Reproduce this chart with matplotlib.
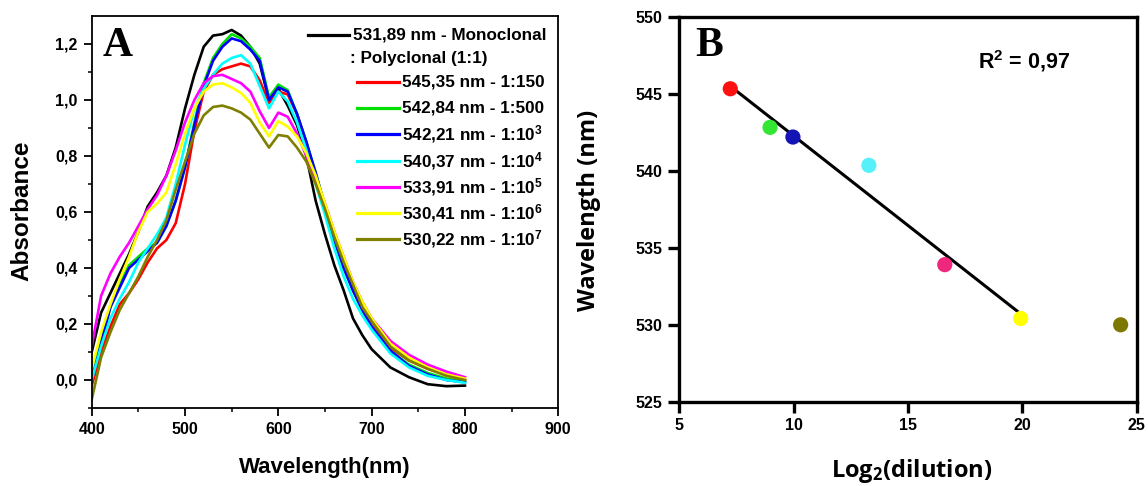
import numpy as np
import matplotlib
matplotlib.use("Agg")
import matplotlib.pyplot as plt

plt.rcParams['mathtext.default'] = 'regular'

# ---- panel A: absorbance spectra ----
wl = [400, 410, 420, 430, 440, 450, 460, 470, 480, 490, 500, 510, 520, 530, 540, 550,
      560, 570, 580, 590, 600, 610, 620, 630, 640, 650, 660, 670, 680, 690, 700,
      720, 740, 760, 780, 800]

abs_mono = [0.10, 0.24, 0.31, 0.38, 0.45, 0.53, 0.62, 0.67, 0.73, 0.83, 0.97, 1.09, 1.19, 1.23, 1.235, 1.25,
            1.23, 1.19, 1.13, 1.00, 1.04, 0.98, 0.91, 0.80, 0.64, 0.52, 0.41, 0.32, 0.22, 0.16, 0.11,
            0.045, 0.01, -0.015, -0.022, -0.02]
abs_150 = [-0.02, 0.10, 0.19, 0.27, 0.31, 0.36, 0.42, 0.47, 0.50, 0.56, 0.70, 0.89, 1.03, 1.09, 1.11, 1.12,
           1.13, 1.12, 1.07, 0.99, 1.03, 1.02, 0.95, 0.85, 0.73, 0.62, 0.50, 0.41, 0.32, 0.25, 0.195,
           0.115, 0.07, 0.04, 0.02, 0.0]
abs_500 = [0.02, 0.15, 0.26, 0.34, 0.41, 0.44, 0.47, 0.49, 0.55, 0.64, 0.76, 0.92, 1.06, 1.15, 1.20, 1.235,
           1.22, 1.19, 1.15, 1.01, 1.055, 1.035, 0.95, 0.85, 0.74, 0.62, 0.50, 0.40, 0.32, 0.25, 0.19,
           0.105, 0.055, 0.025, 0.005, -0.005]
abs_1e3 = [0.0, 0.13, 0.26, 0.33, 0.40, 0.43, 0.46, 0.49, 0.55, 0.64, 0.76, 0.91, 1.05, 1.14, 1.19, 1.22,
           1.21, 1.18, 1.14, 1.00, 1.045, 1.03, 0.95, 0.85, 0.74, 0.62, 0.50, 0.40, 0.32, 0.25, 0.19,
           0.105, 0.05, 0.02, 0.0, -0.008]
abs_1e4 = [0.0, 0.12, 0.22, 0.29, 0.35, 0.42, 0.47, 0.52, 0.58, 0.70, 0.84, 0.97, 1.04, 1.09, 1.13, 1.15,
           1.16, 1.13, 1.05, 0.97, 1.03, 0.995, 0.92, 0.82, 0.70, 0.59, 0.47, 0.37, 0.29, 0.23, 0.18,
           0.095, 0.045, 0.015, 0.0, -0.01]
abs_1e5 = [0.12, 0.30, 0.38, 0.44, 0.49, 0.55, 0.61, 0.66, 0.73, 0.82, 0.92, 1.00, 1.06, 1.085, 1.09, 1.075,
           1.06, 1.03, 0.96, 0.90, 0.955, 0.94, 0.88, 0.80, 0.72, 0.63, 0.53, 0.44, 0.35, 0.28, 0.22,
           0.14, 0.09, 0.055, 0.03, 0.01]
abs_1e6 = [0.04, 0.17, 0.27, 0.36, 0.44, 0.53, 0.60, 0.63, 0.67, 0.77, 0.88, 0.97, 1.03, 1.055, 1.06, 1.045,
           1.025, 0.99, 0.92, 0.87, 0.925, 0.905, 0.87, 0.81, 0.73, 0.63, 0.53, 0.44, 0.35, 0.28, 0.22,
           0.13, 0.08, 0.045, 0.02, 0.005]
abs_1e7 = [-0.07, 0.08, 0.17, 0.25, 0.31, 0.37, 0.44, 0.50, 0.57, 0.68, 0.78, 0.88, 0.945, 0.975, 0.98, 0.97,
           0.955, 0.93, 0.88, 0.83, 0.875, 0.87, 0.83, 0.78, 0.70, 0.61, 0.51, 0.42, 0.34, 0.26, 0.21,
           0.12, 0.07, 0.04, 0.015, 0.0]

spectra = [abs_mono, abs_150, abs_500, abs_1e3, abs_1e4, abs_1e5, abs_1e6, abs_1e7]
spec_colors = ['black', '#ff0000', '#00e000', '#0000ff', '#00ffff', '#ff00ff', '#ffff00', '#808000']
spec_labels = ['531,89 nm - Monoclonal', '545,35 nm - 1:150', '542,84 nm - 1:500',
               '542,21 nm - 1:10$^3$', '540,37 nm - 1:10$^4$', '533,91 nm - 1:10$^5$',
               '530,41 nm - 1:10$^6$', '530,22 nm - 1:10$^7$']

# ---- panel B: peak wavelength vs log2(dilution) ----
log2_dil = [7.23, 8.97, 9.97, 13.29, 16.61, 19.93, 24.3]
peak_wl = [545.35, 542.84, 542.21, 540.37, 533.91, 530.41, 530.0]
pt_colors = ['#ff1010', '#33e633', '#1414b4', '#55f0fa', '#f0287d', '#ffff00', '#7d7800']

fig = plt.figure(figsize=(11.48, 4.86), dpi=100)

# ---------------- A ----------------
axA = fig.add_axes([0.0799, 0.1605, 0.4064, 0.8066])
for y, c in zip(spectra, spec_colors):
    axA.plot(wl, y, color=c, lw=1.9)
axA.set_xlim(400, 900)
axA.set_ylim(-0.1, 1.3)
axA.set_xticks([400, 500, 600, 700, 800, 900])
axA.set_xticks([450, 550, 650, 750, 850], minor=True)
axA.set_yticks([0.0, 0.2, 0.4, 0.6, 0.8, 1.0, 1.2])
axA.set_yticks([-0.1, 0.1, 0.3, 0.5, 0.7, 0.9, 1.1], minor=True)
axA.set_yticklabels(['0,0', '0,2', '0,4', '0,6', '0,8', '1,0', '1,2'])
for s in axA.spines.values():
    s.set_linewidth(1.3)
axA.tick_params(which='major', direction='out', length=6, width=1.3, pad=4,
                labelsize=11.5)
axA.tick_params(which='minor', direction='out', length=3, width=1.1)
for lab in axA.get_xticklabels() + axA.get_yticklabels():
    lab.set_fontfamily('Liberation Sans')
    lab.set_fontweight('bold')

axA.text(0.056, 0.923, 'A', transform=axA.transAxes, ha='center', va='center',
         fontsize=30, fontweight='bold', family='Liberation Serif')

# hand-made legend in Origin style
lg_font = dict(fontsize=12.3, fontweight='bold', family='Liberation Sans', va='center')
axA.plot([0.464, 0.552], [0.9515, 0.9515], color='black', lw=2.3, transform=axA.transAxes)
axA.text(0.561, 0.9515, spec_labels[0], transform=axA.transAxes, **lg_font)
axA.text(0.554, 0.8916, ': Polyclonal (1:1)', transform=axA.transAxes, **lg_font)
rows = [0.8316, 0.7653, 0.699, 0.630, 0.5638, 0.4974, 0.4311]
for yy, c, lab in zip(rows, spec_colors[1:], spec_labels[1:]):
    axA.plot([0.569, 0.659], [yy, yy], color=c, lw=2.3, transform=axA.transAxes)
    axA.text(0.665, yy, lab, transform=axA.transAxes, **lg_font)

fig.text(325 / 1148, 1 - 467 / 486, 'Wavelength(nm)', ha='center', va='center',
         fontsize=16, fontweight='bold', family='Liberation Sans')
fig.text(22 / 1148, 1 - 211 / 486, 'Absorbance', ha='center', va='center', rotation=90,
         fontsize=17.5, fontweight='bold', family='Liberation Sans')

# ---------------- B ----------------
axB = fig.add_axes([0.5917, 0.1735, 0.3984, 0.791])
coef = np.polyfit(log2_dil[:6], peak_wl[:6], 1)
xfit = np.array([log2_dil[0], log2_dil[5]])
axB.plot(xfit, np.polyval(coef, xfit), color='black', lw=2.2, zorder=2)
axB.scatter(log2_dil, peak_wl, s=120, c=pt_colors, edgecolors='none', zorder=3)
axB.set_xlim(5, 25)
axB.set_ylim(525, 550)
axB.set_xticks([5, 10, 15, 20, 25])
axB.set_yticks([525, 530, 535, 540, 545, 550])
for s in axB.spines.values():
    s.set_linewidth(2.4)
axB.tick_params(direction='out', length=8, width=2.4, pad=4, labelsize=11.5)
for lab in axB.get_xticklabels() + axB.get_yticklabels():
    lab.set_fontfamily('Liberation Sans')
    lab.set_fontweight('bold')

axB.text(0.066, 0.925, 'B', transform=axB.transAxes, ha='center', va='center',
         fontsize=30, fontweight='bold', family='Liberation Serif')
axB.text(0.653, 0.886, 'R$^2$ = 0,97', transform=axB.transAxes, ha='left', va='center',
         fontsize=15.5, fontweight='bold', family='Liberation Sans')

fig.text(912 / 1148, 1 - 471 / 486, 'Log$_2$(dilution)', ha='center', va='center',
         fontsize=17, fontweight='bold', family='Open Sans')
fig.text(589 / 1148, 1 - 210 / 486, 'Wavelength (nm)', ha='center', va='center', rotation=90,
         fontsize=17, fontweight='bold', family='Open Sans')

fig.savefig('out.png', dpi=100)
